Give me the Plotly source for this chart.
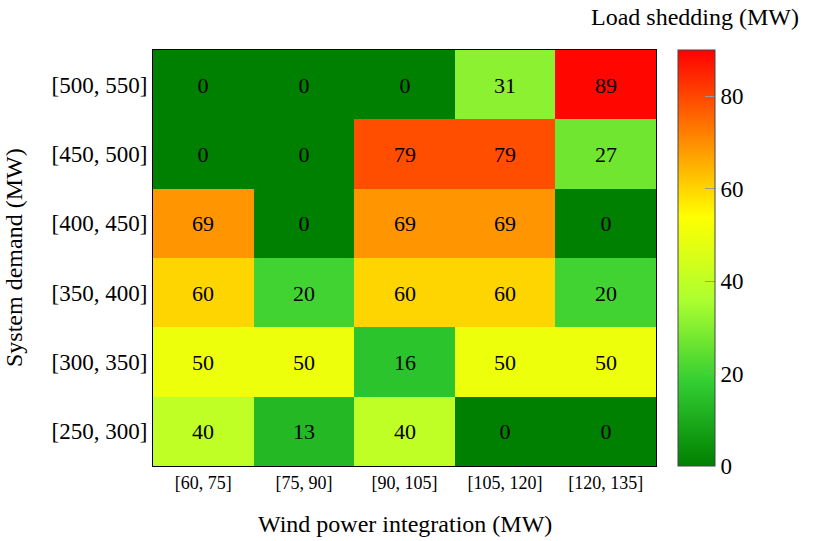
import plotly.graph_objects as go

wind_bins = ["[60, 75]", "[75, 90]", "[90, 105]", "[105, 120]", "[120, 135]"]
demand_bins = ["[250, 300]", "[300, 350]", "[350, 400]", "[400, 450]", "[450, 500]", "[500, 550]"]
load_shedding = [
    [40, 13, 40, 0, 0],
    [50, 50, 16, 50, 50],
    [60, 20, 60, 60, 20],
    [69, 0, 69, 69, 0],
    [0, 0, 79, 79, 27],
    [0, 0, 0, 31, 89],
]
cbar_ticks = [0, 20, 40, 60, 80]

FONT = "Liberation Serif"
L, R, T, B = 153, 656, 50, 466
W, H = R - L, B - T

colorscale = [
    [0.0, "rgb(0,128,0)"],
    [0.2, "rgb(50,205,50)"],
    [0.4, "rgb(173,255,47)"],
    [0.6, "rgb(255,255,0)"],
    [1.0, "rgb(255,0,0)"],
]

fig = go.Figure(go.Heatmap(
    x=wind_bins, y=demand_bins, z=load_shedding,
    zmin=0, zmax=90, colorscale=colorscale,
    texttemplate="%{z}", textfont=dict(family=FONT, size=22, color="black"),
    colorbar=dict(
        x=(678 - L) / W, xanchor="left", xpad=0,
        y=0.5, yanchor="middle", len=1, lenmode="fraction", ypad=0,
        thickness=37, outlinewidth=1, outlinecolor="#444",
        tickvals=cbar_ticks, ticks="inside", ticklen=10, tickcolor="#999",
        tickfont=dict(family=FONT, size=23, color="black"),
    ),
))

fig.update_layout(
    width=815, height=541,
    margin=dict(l=L, r=815 - R, t=T, b=541 - B, autoexpand=False),
    paper_bgcolor="white", plot_bgcolor="white",
    xaxis=dict(
        showline=True, mirror=True, linecolor="black", linewidth=1,
        ticks="", tickfont=dict(family=FONT, size=18, color="black"),
    ),
    yaxis=dict(
        showline=True, mirror=True, linecolor="black", linewidth=1,
        ticks="", tickfont=dict(family=FONT, size=23, color="black"),
    ),
    annotations=[
        dict(text="Wind power integration (MW)", xref="paper", yref="paper",
             x=0.5, y=-(524 - B) / H, xanchor="center", yanchor="middle",
             showarrow=False, font=dict(family=FONT, size=24, color="black")),
        dict(text="System demand (MW)", xref="paper", yref="paper",
             x=(14 - L) / W, y=(B - 258) / H, xanchor="center", yanchor="middle",
             textangle=-90, showarrow=False,
             font=dict(family=FONT, size=24, color="black")),
        dict(text="Load shedding (MW)", xref="paper", yref="paper",
             x=(695 - L) / W, y=(B - 17) / H, xanchor="center", yanchor="middle",
             showarrow=False, font=dict(family=FONT, size=24, color="black")),
    ],
)

fig.write_html("out.html", config={"displayModeBar": False},
               post_script="document.body.style.margin='0';")
